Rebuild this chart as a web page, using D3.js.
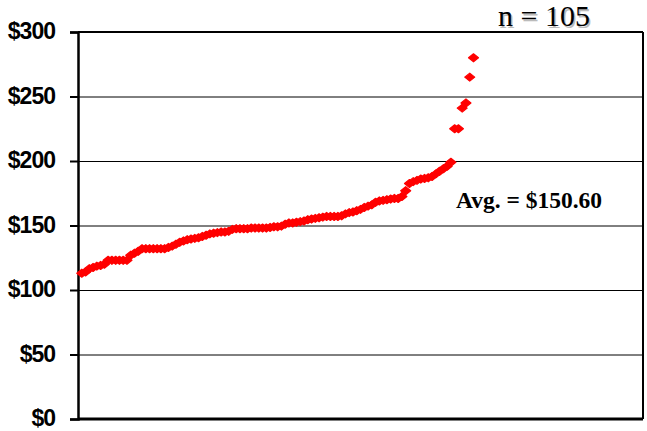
<!DOCTYPE html>
<html>
<head>
<meta charset="utf-8">
<script src="https://cdn.jsdelivr.net/npm/d3@7"></script>
<style>
  body { margin: 0; background: #fff; }
  .ylab text { font-family: "Liberation Sans", Arial, sans-serif; font-weight: bold; font-size: 23px; letter-spacing: -1px; fill: #000; }
</style>
</head>
<body>
<div id="chart"></div>
<script>
// sorted prices, one per respondent
var prices = [
  113, 114, 116.5, 117.5, 118.5, 119, 120, 123, 123, 123, 123, 123, 123,
  127, 128.5, 130, 132, 132, 132, 132, 132, 132, 132, 133, 134, 135.5,
  137, 138, 139, 139.5, 140, 140.5, 141.5, 142.5, 143.5, 144, 144.5, 145, 145, 145.5,
  147, 147.5, 147.5, 147.5, 147.5, 148, 148, 148, 148, 148, 148.5, 149, 149, 149.5,
  151, 152, 152, 152.5, 153, 153.5, 154.5, 155, 155.5, 156, 156.5, 157, 157, 157, 157, 157.5,
  159, 160, 160.5, 161.5, 162.5, 164, 165, 166, 168, 169, 169.5, 170, 170.5, 171, 171, 172.5,
  177, 182.5, 184, 185, 186, 186.5, 187, 188, 190, 192, 194, 196, 199,
  225, 225, 241, 245, 265, 280
]
var yTicks = [0, 50, 100, 150, 200, 250, 300]
var countLabel = "n = 105"
var avgLabel = "Avg. = $150.60"

var W = 647, H = 431
var margin = {top: 32, right: 4, bottom: 12, left: 78},
    width  = W - margin.left - margin.right,
    height = H - margin.top - margin.bottom

var svg = d3.select("#chart").append("svg")
  .attr("width", W)
  .attr("height", H)

var g = svg.append("g")
  .attr("transform", "translate(" + margin.left + "," + margin.top + ")")

var x = d3.scaleLinear().domain([0, 150]).range([0, width])
var y = d3.scaleLinear().domain([0, 300]).range([height, 0])

// gridlines
g.append("g")
  .call(d3.axisLeft(y).tickValues(yTicks.slice(1, -1)).tickSize(-width).tickFormat(""))
  .call(a => a.select(".domain").remove())
  .selectAll("line").attr("stroke", "#000").attr("stroke-width", 1)

// y axis with labels
var ya = g.append("g")
  .attr("class", "ylab")
  .call(d3.axisLeft(y).tickValues(yTicks).tickSize(8).tickPadding(15).tickFormat(d => "$" + d))
ya.select(".domain").attr("stroke-width", 2.5)
ya.selectAll("line").attr("stroke-width", 2)
ya.selectAll("text").attr("dy", "0.3em")

// frame
g.append("line").attr("x1", 0).attr("x2", width).attr("y1", height).attr("y2", height)
  .attr("stroke", "#000").attr("stroke-width", 3)
g.append("line").attr("x1", 0).attr("x2", width).attr("y1", 0).attr("y2", 0)
  .attr("stroke", "#000").attr("stroke-width", 2)
g.append("line").attr("x1", width).attr("x2", width).attr("y1", 0).attr("y2", height)
  .attr("stroke", "#000").attr("stroke-width", 2)

// diamond markers
var diamond = "M0,-4L5,0L0,4L-5,0Z"
g.selectAll("path.pt")
  .data(prices)
  .enter().append("path")
    .attr("class", "pt")
    .attr("d", diamond)
    .attr("transform", (d, i) => "translate(" + x(i + 1) + "," + y(d) + ")")
    .attr("fill", "#ff0000")
    .attr("stroke", "#ff0000")
    .attr("stroke-width", 1.2)
    .attr("stroke-linejoin", "round")

// annotations
svg.append("text")
  .attr("x", 545.5).attr("y", 27.5)
  .attr("text-anchor", "middle")
  .attr("font-family", "'Liberation Serif', 'Times New Roman', serif")
  .attr("font-size", 30)
  .attr("fill", "#bbb")
  .text(countLabel)
svg.append("text")
  .attr("x", 544).attr("y", 26)
  .attr("text-anchor", "middle")
  .attr("font-family", "'Liberation Serif', 'Times New Roman', serif")
  .attr("font-size", 30)
  .attr("fill", "#000")
  .text(countLabel)

svg.append("text")
  .attr("x", 456).attr("y", 208)
  .attr("font-family", "'Liberation Serif', 'Times New Roman', serif")
  .attr("font-weight", "bold")
  .attr("font-size", 23.5)
  .attr("fill", "#000")
  .text(avgLabel)
</script>
</body>
</html>
